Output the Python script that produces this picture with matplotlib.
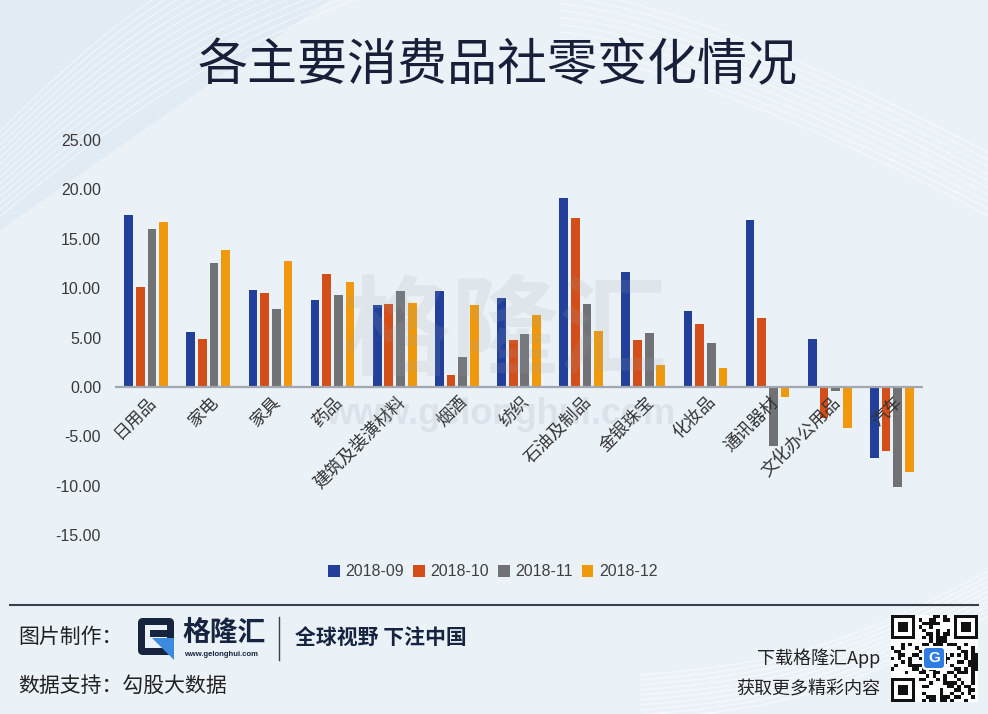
import numpy as np
import matplotlib
matplotlib.use("Agg")
import matplotlib.pyplot as plt
from matplotlib.patches import Patch, FancyBboxPatch, Rectangle, Polygon

plt.rcParams['font.family'] = ['Noto Sans CJK SC', 'DejaVu Sans']

categories = ['日用品', '家电', '家具', '药品', '建筑及装潢材料', '烟酒', '纺织',
              '石油及制品', '金银珠宝', '化妆品', '通讯器材', '文化办公用品', '汽车']
series_names = ['2018-09', '2018-10', '2018-11', '2018-12']
s_2018_09 = [17.4, 5.6, 9.8, 8.8, 8.3, 9.7, 9.0, 19.1, 11.6, 7.7, 16.9, 4.8, -7.2]
s_2018_10 = [10.1, 4.8, 9.5, 11.4, 8.4, 1.2, 4.7, 17.1, 4.7, 6.4, 7.0, -3.2, -6.5]
s_2018_11 = [16.0, 12.5, 7.9, 9.3, 9.7, 3.0, 5.4, 8.4, 5.5, 4.4, -6.0, -0.4, -10.1]
s_2018_12 = [16.7, 13.9, 12.7, 10.6, 8.5, 8.3, 7.3, 5.7, 2.2, 1.9, -1.0, -4.2, -8.6]
yticks = [-15, -10, -5, 0, 5, 10, 15, 20, 25]
colors = ['#22409A', '#D44E1A', '#707276', '#F0990C']

W, H = 988, 714
fig = plt.figure(figsize=(W / 100, H / 100), dpi=100)
fig.patch.set_facecolor('#EAF1F7')

# background decoration layer (pixel coords)
bg = fig.add_axes([0, 0, 1, 1], zorder=-5)
bg.set_xlim(0, W); bg.set_ylim(H, 0); bg.axis('off')
t = np.linspace(0, 1, 200)
for k in range(14):
    xx = -40 + t * 420
    yy = 250 - 260 * t - 30 * np.sin(np.pi * t) * (1 + k * 0.06) - k * 6
    bg.plot(xx, yy, color='white', lw=0.8, alpha=0.55)
for k in range(10):
    xx = 560 + t * 460
    yy = -10 + 180 * t ** 1.4 + k * 7
    bg.plot(xx, yy, color='white', lw=1.0, alpha=0.5)
for k in range(10):
    xx = 640 + t * 360
    yy = 720 - 110 * t + 25 * np.sin(np.pi * t) - k * 5
    bg.plot(xx, yy, color='white', lw=0.9, alpha=0.6)
bg.add_patch(Polygon([[0, 0], [330, 0], [0, 230]], closed=True, color='#DCE7F2', alpha=0.6, lw=0))

# main chart
ax = fig.add_axes([115 / W, (H - 535) / H, (923 - 115) / W, (535 - 140) / H])
ax.set_facecolor('none')
n = len(categories)
x = np.arange(n)
step = 0.188
width = 0.14
all_series = [s_2018_09, s_2018_10, s_2018_11, s_2018_12]
for j, (vals, c, name) in enumerate(zip(all_series, colors, series_names)):
    ax.bar(x + (j - 1.5) * step, vals, width=width, color=c, label=name, zorder=3)
ax.axhline(0, color='#A3A8B0', lw=1.6, zorder=4)
ax.set_xlim(-0.5, n - 0.5)
ax.set_ylim(-15, 25)
ax.set_yticks(yticks)
ax.set_yticklabels([f'{v:.2f}' for v in yticks], fontsize=11.5, color='#3A3A3A',
                   family=['Liberation Sans', 'DejaVu Sans'])
ax.tick_params(axis='y', length=0, pad=10)
ax.set_xticks([])
for s in ax.spines.values():
    s.set_visible(False)
for i, lab in enumerate(categories):
    ax.text(i + 0.02, -0.6, lab, rotation=45, ha='right', va='top',
            rotation_mode='anchor', fontsize=12.5, color='#333333', zorder=5)

handles = [Patch(facecolor=c, edgecolor='none', label=nm) for c, nm in zip(colors, series_names)]
leg = fig.legend(handles=handles, loc='center', bbox_to_anchor=(493 / W, (H - 572) / H),
                 ncol=4, frameon=False, handlelength=0.7, handleheight=0.7,
                 handletextpad=0.35, columnspacing=0.6,
                 prop={'family': ['Liberation Sans', 'DejaVu Sans'], 'size': 11.5})
for txt in leg.get_texts():
    txt.set_color('#404040')

# overlay layer
ov = fig.add_axes([0, 0, 1, 1], zorder=10)
ov.set_xlim(0, W); ov.set_ylim(H, 0); ov.axis('off')
ov.patch.set_alpha(0)

# title
ov.text(498, 66, '各主要消费品社零变化情况', ha='center', va='center', fontsize=36,
        color='#172038')

# watermark
ov.text(505, 335, '格隆汇', ha='center', va='center', fontsize=78, fontweight='bold',
        color='#9AA3AD', alpha=0.15)
ov.text(500, 415, 'www.gelonghui.com', ha='center', va='center', fontsize=26,
        fontweight='bold', color='#9AA3AD', alpha=0.18, family=['Liberation Sans', 'DejaVu Sans'])

# footer
ov.plot([10, 978], [605, 605], color='#3A3F48', lw=1.5)
ov.text(18, 637, '图片制作：', ha='left', va='center', fontsize=15, color='#222222')
ov.text(18, 686, '数据支持：勾股大数据', ha='left', va='center', fontsize=15, color='#222222')
# logo
ov.add_patch(FancyBboxPatch((138, 618), 36, 37, boxstyle='round,pad=0,rounding_size=5',
                            color='#16243F', lw=0))
ov.add_patch(Rectangle((145, 625), 22, 23, color='#EAF1F7', lw=0))
ov.add_patch(Rectangle((150, 630), 24, 7, color='#16243F', lw=0))
ov.add_patch(Polygon([[152, 638], [174, 638], [174, 660]], closed=True, color='#3D8BE0', lw=0))
ov.text(182, 633, '格隆汇', ha='left', va='center', fontsize=20, fontweight='bold', color='#16243F')
ov.text(184, 654, 'www.gelonghui.com', ha='left', va='center', fontsize=5.5, fontweight='bold',
        color='#16243F', family=['Liberation Sans', 'DejaVu Sans'])
ov.plot([279, 279], [617, 660], color='#3A3F48', lw=1)
ov.text(295, 637, '全球视野 下注中国', ha='left', va='center', fontsize=15, fontweight='bold',
        color='#16243F')
ov.text(880, 658, '下载格隆汇App', ha='right', va='center', fontsize=13, color='#222222')
ov.text(880, 690, '获取更多精彩内容', ha='right', va='center', fontsize=13, color='#222222')

# QR-like decoration
qx0, qy0, qs = 891, 615, 87
nmod = 25
cell = qs / nmod
ov.add_patch(Rectangle((qx0, qy0), qs, qs, color='white', lw=0))
ii, jj = np.meshgrid(np.arange(nmod), np.arange(nmod))
pattern = ((ii * 7 + jj * 13 + (ii * jj) % 5) % 3 == 0) ^ ((ii + 2 * jj) % 4 == 1)
for a in range(nmod):
    for b in range(nmod):
        infinder = (a < 8 and b < 8) or (a < 8 and b >= nmod - 8) or (a >= nmod - 8 and b < 8)
        if not infinder and pattern[a, b]:
            ov.add_patch(Rectangle((qx0 + b * cell, qy0 + a * cell), cell, cell, color='#111111', lw=0))
for (fa, fb) in [(0, 0), (0, nmod - 7), (nmod - 7, 0)]:
    fx, fy = qx0 + fb * cell, qy0 + fa * cell
    ov.add_patch(Rectangle((fx, fy), 7 * cell, 7 * cell, color='#111111', lw=0))
    ov.add_patch(Rectangle((fx + cell, fy + cell), 5 * cell, 5 * cell, color='white', lw=0))
    ov.add_patch(Rectangle((fx + 2 * cell, fy + 2 * cell), 3 * cell, 3 * cell, color='#111111', lw=0))
ov.add_patch(FancyBboxPatch((922, 646), 24, 24, boxstyle='round,pad=0,rounding_size=4',
                            color='white', lw=0))
ov.add_patch(FancyBboxPatch((924, 648), 20, 20, boxstyle='round,pad=0,rounding_size=3',
                            color='#2F7DE1', lw=0))
ov.text(934, 658, 'G', ha='center', va='center', fontsize=11, fontweight='bold', color='white',
        family=['Liberation Sans', 'DejaVu Sans'])

fig.savefig('out.png', dpi=100, facecolor=fig.get_facecolor())
